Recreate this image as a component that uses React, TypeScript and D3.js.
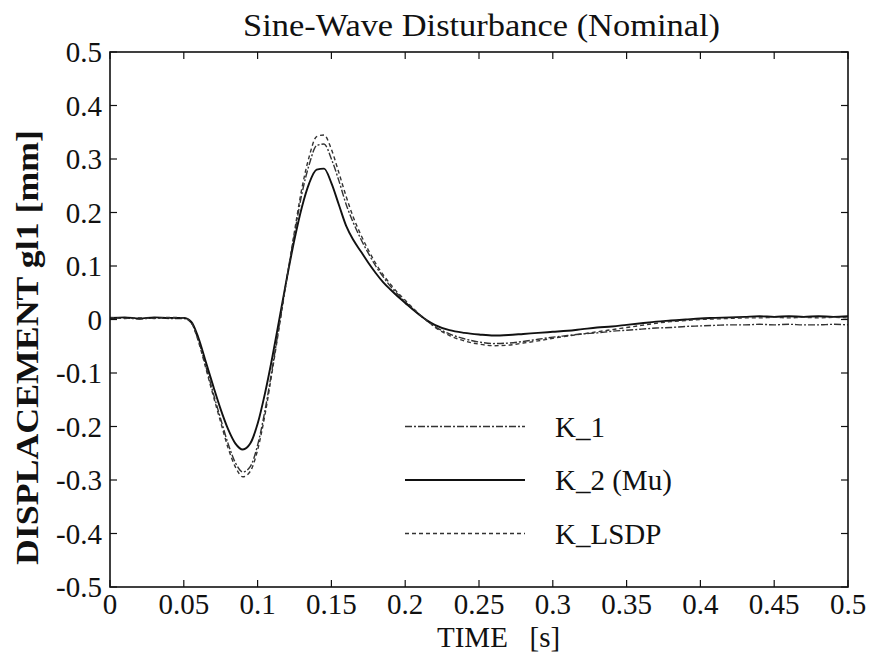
import React from "react";
import * as d3 from "d3";

const times = [
  0, 0.01, 0.02, 0.03, 0.04, 0.05,
  0.055, 0.06, 0.065, 0.07, 0.075, 0.08, 0.085, 0.09, 0.095, 0.1,
  0.105, 0.11, 0.115, 0.12, 0.125, 0.13, 0.135, 0.14, 0.145, 0.15,
  0.155, 0.16, 0.165, 0.17, 0.175, 0.18, 0.185, 0.19, 0.195, 0.2,
  0.205, 0.21, 0.215, 0.22,
  0.23, 0.24, 0.25, 0.26, 0.27, 0.28, 0.29, 0.3, 0.31, 0.32, 0.33, 0.34,
  0.35, 0.36, 0.37, 0.38, 0.39, 0.4, 0.41, 0.42, 0.43, 0.44, 0.45, 0.46,
  0.47, 0.48, 0.49, 0.5,
];

const k2 = [
  0.003, 0.004, 0.002, 0.004, 0.003, 0.003,
  -0.004, -0.035, -0.08, -0.125, -0.168, -0.205, -0.232, -0.243, -0.232, -0.195,
  -0.138, -0.07, 0.005, 0.08, 0.15, 0.21, 0.255, 0.28, 0.282, 0.255,
  0.215, 0.175, 0.148, 0.127, 0.106, 0.087, 0.07, 0.056, 0.043, 0.031,
  0.019, 0.008, -0.002, -0.01,
  -0.02, -0.025, -0.028, -0.03, -0.029, -0.027, -0.025, -0.023, -0.021, -0.018, -0.015, -0.013,
  -0.01, -0.007, -0.004, -0.002, 0.0, 0.002, 0.003, 0.004, 0.005, 0.006, 0.005, 0.006,
  0.005, 0.006, 0.005, 0.006,
];

const k1 = [
  0.002, 0.003, 0.001, 0.003, 0.002, 0.002,
  -0.006, -0.04, -0.088, -0.138, -0.186, -0.232, -0.268, -0.285, -0.275, -0.235,
  -0.17, -0.09, -0.005, 0.08, 0.16, 0.235, 0.29, 0.325, 0.328, 0.3,
  0.26, 0.215, 0.18, 0.15, 0.124, 0.1, 0.08, 0.062, 0.047, 0.033,
  0.02, 0.008, -0.003, -0.013,
  -0.027, -0.036, -0.042, -0.045, -0.044, -0.041, -0.037, -0.033, -0.03, -0.027, -0.025, -0.022,
  -0.02, -0.018, -0.016, -0.015, -0.013, -0.012, -0.011, -0.01, -0.01, -0.009, -0.01, -0.009,
  -0.01, -0.01, -0.009, -0.01,
];

const kLsdp = [
  0.004, 0.002, 0.003, 0.002, 0.004, 0.003,
  -0.006, -0.042, -0.092, -0.143, -0.192, -0.24, -0.276, -0.294, -0.284, -0.244,
  -0.178, -0.095, -0.008, 0.08, 0.165, 0.245, 0.305, 0.342, 0.345, 0.318,
  0.275, 0.23, 0.19, 0.158, 0.13, 0.105, 0.084, 0.066, 0.05, 0.036,
  0.022, 0.009, -0.003, -0.014,
  -0.03, -0.04, -0.046, -0.049, -0.048, -0.044, -0.04, -0.035, -0.031, -0.027, -0.023, -0.019,
  -0.015, -0.011, -0.007, -0.004, -0.002, 0.0, 0.001, 0.002, 0.003, 0.003, 0.004, 0.003,
  0.004, 0.003, 0.004, 0.003,
];

const xTicks = [0, 0.05, 0.1, 0.15, 0.2, 0.25, 0.3, 0.35, 0.4, 0.45, 0.5];
const xTickLabels = ["0", "0.05", "0.1", "0.15", "0.2", "0.25", "0.3", "0.35", "0.4", "0.45", "0.5"];
const yTicks = [0.5, 0.4, 0.3, 0.2, 0.1, 0, -0.1, -0.2, -0.3, -0.4, -0.5];
const yTickLabels = ["0.5", "0.4", "0.3", "0.2", "0.1", "0", "-0.1", "-0.2", "-0.3", "-0.4", "-0.5"];

const seriesNames = ["K_1", "K_2 (Mu)", "K_LSDP"];
const seriesValues = [k1, k2, kLsdp];
const legendValues = [-0.2, -0.3, -0.4];

const W = 875;
const H = 670;
const L = 110, R = 848, T = 52, B = 587;
const FONT = "'Liberation Serif', 'Times New Roman', serif";

const styles = [
  { dash: "7,2,2,2", width: 1.4, color: "#333" },
  { dash: "", width: 1.9, color: "#111" },
  { dash: "4,3", width: 1.4, color: "#333" },
];

export default function App() {
  const x = d3.scaleLinear().domain([0, 0.5]).range([L, R]);
  const y = d3.scaleLinear().domain([-0.5, 0.5]).range([B, T]);
  const line = d3
    .line<number>()
    .x((_, i) => x(times[i]))
    .y((d) => y(d))
    .curve(d3.curveMonotoneX);
  const tickLen = 7;

  return (
    <svg width={W} height={H} style={{ position: "absolute", left: 0, top: 0, background: "#fff" }} fontFamily={FONT}>
      <rect x={0} y={0} width={W} height={H} fill="#fff" />
      <text x={243} y={36} fontSize={31} textLength={477} lengthAdjust="spacingAndGlyphs" fill="#111">
        Sine-Wave Disturbance (Nominal)
      </text>

      {seriesValues.map((vals, i) => (
        <path
          key={i}
          d={line(vals) || ""}
          fill="none"
          stroke={styles[i].color}
          strokeWidth={styles[i].width}
          strokeDasharray={styles[i].dash}
        />
      ))}

      <rect x={L} y={T} width={R - L} height={B - T} fill="none" stroke="#111" strokeWidth={1.6} />
      {xTicks.map((t, i) => (
        <g key={"xt" + i}>
          <line x1={x(t)} x2={x(t)} y1={B} y2={B - tickLen} stroke="#111" strokeWidth={1.2} />
          <line x1={x(t)} x2={x(t)} y1={T} y2={T + tickLen} stroke="#111" strokeWidth={1.2} />
          <text x={x(t)} y={614} fontSize={29} textAnchor="middle" fill="#111">
            {xTickLabels[i]}
          </text>
        </g>
      ))}
      {yTicks.map((t, i) => (
        <g key={"yt" + i}>
          <line x1={L} x2={L + tickLen} y1={y(t)} y2={y(t)} stroke="#111" strokeWidth={1.2} />
          <line x1={R} x2={R - tickLen} y1={y(t)} y2={y(t)} stroke="#111" strokeWidth={1.2} />
          <text x={102} y={y(t) + 10} fontSize={29} textAnchor="end" fill="#111">
            {yTickLabels[i]}
          </text>
        </g>
      ))}

      <text x={437} y={647} fontSize={29} fill="#111" style={{ whiteSpace: "pre" }}>
        {"TIME   [s]"}
      </text>
      <text
        transform={`translate(38, 565) rotate(-90)`}
        fontSize={31}
        fontWeight="bold"
        textLength={435}
        lengthAdjust="spacingAndGlyphs"
        fill="#111"
      >
        DISPLACEMENT gl1 [mm]
      </text>

      {seriesNames.map((name, i) => {
        const ly = y(legendValues[i]);
        return (
          <g key={"lg" + i}>
            <line
              x1={405}
              x2={525}
              y1={ly}
              y2={ly}
              stroke={styles[i].color}
              strokeWidth={styles[i].width}
              strokeDasharray={styles[i].dash}
            />
            <text x={555} y={ly + 10} fontSize={29} fill="#111">
              {name}
            </text>
          </g>
        );
      })}
    </svg>
  );
}
